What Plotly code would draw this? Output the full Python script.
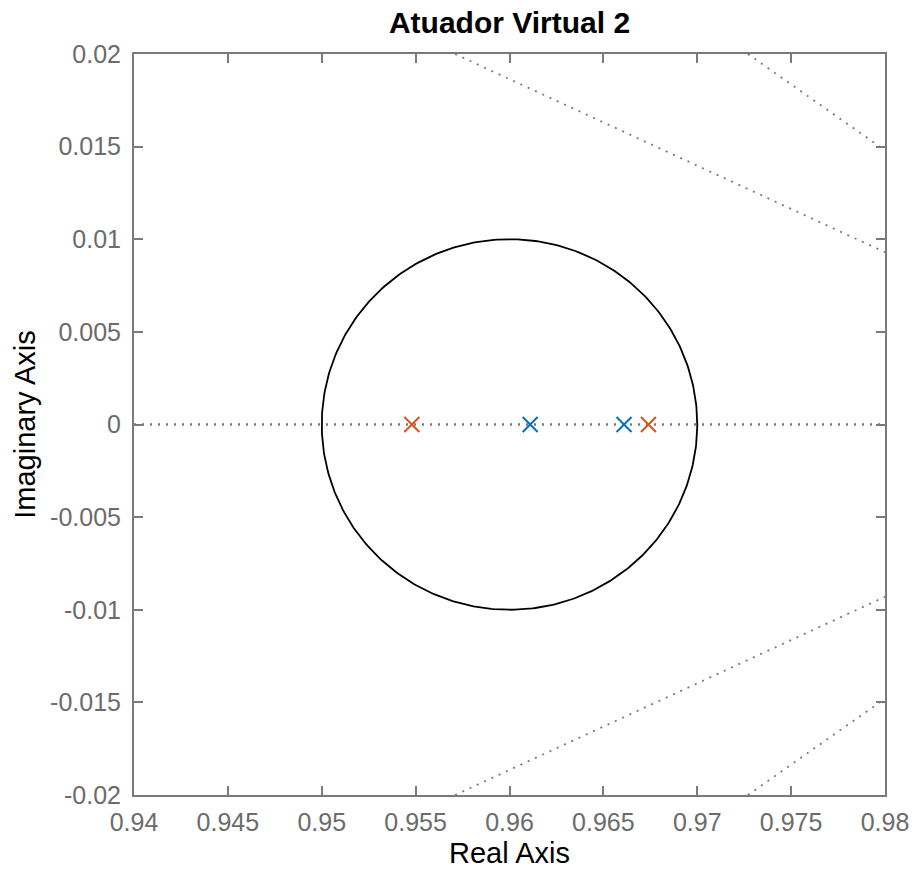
import numpy as np
import plotly.graph_objects as go

# Data
pole_blue_re = [0.9611, 0.9661]
pole_blue_im = [0.0, 0.0]
pole_orange_re = [0.9548, 0.9674]
pole_orange_im = [0.0, 0.0]

circle_center = (0.96, 0.0)
circle_radius = 0.01

# zgrid dotted lines
grid_axis_x = [0.94, 0.98]
grid_axis_y = [0.0, 0.0]
grid1_x = [0.9571, 0.98]
grid1_y = [0.02, 0.0093]
grid2_x = [0.9727, 0.98]
grid2_y = [0.02, 0.0148]

xticks = [0.94, 0.945, 0.95, 0.955, 0.96, 0.965, 0.97, 0.975, 0.98]
yticks = [-0.02, -0.015, -0.01, -0.005, 0, 0.005, 0.01, 0.015, 0.02]
xtick_text = ["0.94", "0.945", "0.95", "0.955", "0.96", "0.965", "0.97", "0.975", "0.98"]
ytick_text = ["-0.02", "-0.015", "-0.01", "-0.005", "0", "0.005", "0.01", "0.015", "0.02"]

FONT = "Liberation Sans, Arial, sans-serif"
GRIDCOL = "#7a7a7a"
DOT = "2px,6px"

fig = go.Figure()

for gx, gy in [(grid_axis_x, grid_axis_y), (grid1_x, grid1_y), (grid2_x, grid2_y)]:
    fig.add_trace(go.Scatter(x=gx, y=gy, mode="lines",
                             line=dict(color=GRIDCOL, width=1.8, dash=DOT),
                             hoverinfo="skip", showlegend=False))
    fig.add_trace(go.Scatter(x=gx, y=[-v for v in gy], mode="lines",
                             line=dict(color=GRIDCOL, width=1.8, dash=DOT),
                             hoverinfo="skip", showlegend=False))

t = np.linspace(0, 2 * np.pi, 400)
fig.add_trace(go.Scatter(x=circle_center[0] + circle_radius * np.cos(t),
                         y=circle_center[1] + circle_radius * np.sin(t),
                         mode="lines", line=dict(color="black", width=1.8),
                         showlegend=False))

fig.add_trace(go.Scatter(x=pole_blue_re, y=pole_blue_im, mode="markers",
                         marker=dict(symbol="x-thin", size=15,
                                     line=dict(color="#0072BD", width=2)),
                         showlegend=False))
fig.add_trace(go.Scatter(x=pole_orange_re, y=pole_orange_im, mode="markers",
                         marker=dict(symbol="x-thin", size=15,
                                     line=dict(color="#D95319", width=2)),
                         showlegend=False))

axis_common = dict(showgrid=False, zeroline=False, showline=True, mirror="ticks",
                   linecolor="#7a7a7a", linewidth=2, ticks="inside", ticklen=9,
                   tickcolor="#7a7a7a", tickwidth=1.5, automargin=False,
                   tickfont=dict(family=FONT, size=25, color="#6b6b6b"))

fig.update_layout(
    width=914, height=877,
    margin=dict(l=134, r=29, t=54, b=82),
    paper_bgcolor="white", plot_bgcolor="white",
    title=dict(text="<b>Atuador Virtual 2</b>", x=(134 + 885) / 2 / 914, xanchor="center",
               y=1 - 22 / 877, yanchor="middle",
               font=dict(family=FONT, size=30, color="black")),
    xaxis=dict(range=[0.94, 0.98], tickvals=xticks, ticktext=xtick_text,
               ticklabelstandoff=4,
               title=dict(text="Real Axis", font=dict(family=FONT, size=29, color="black"),
                          standoff=8),
               **axis_common),
    yaxis=dict(range=[-0.02, 0.02], tickvals=yticks, ticktext=ytick_text,
               ticklabelstandoff=6,
               title=dict(text="Imaginary Axis", font=dict(family=FONT, size=29, color="black"),
                          standoff=6),
               **axis_common),
)

fig.write_html("out.html")
